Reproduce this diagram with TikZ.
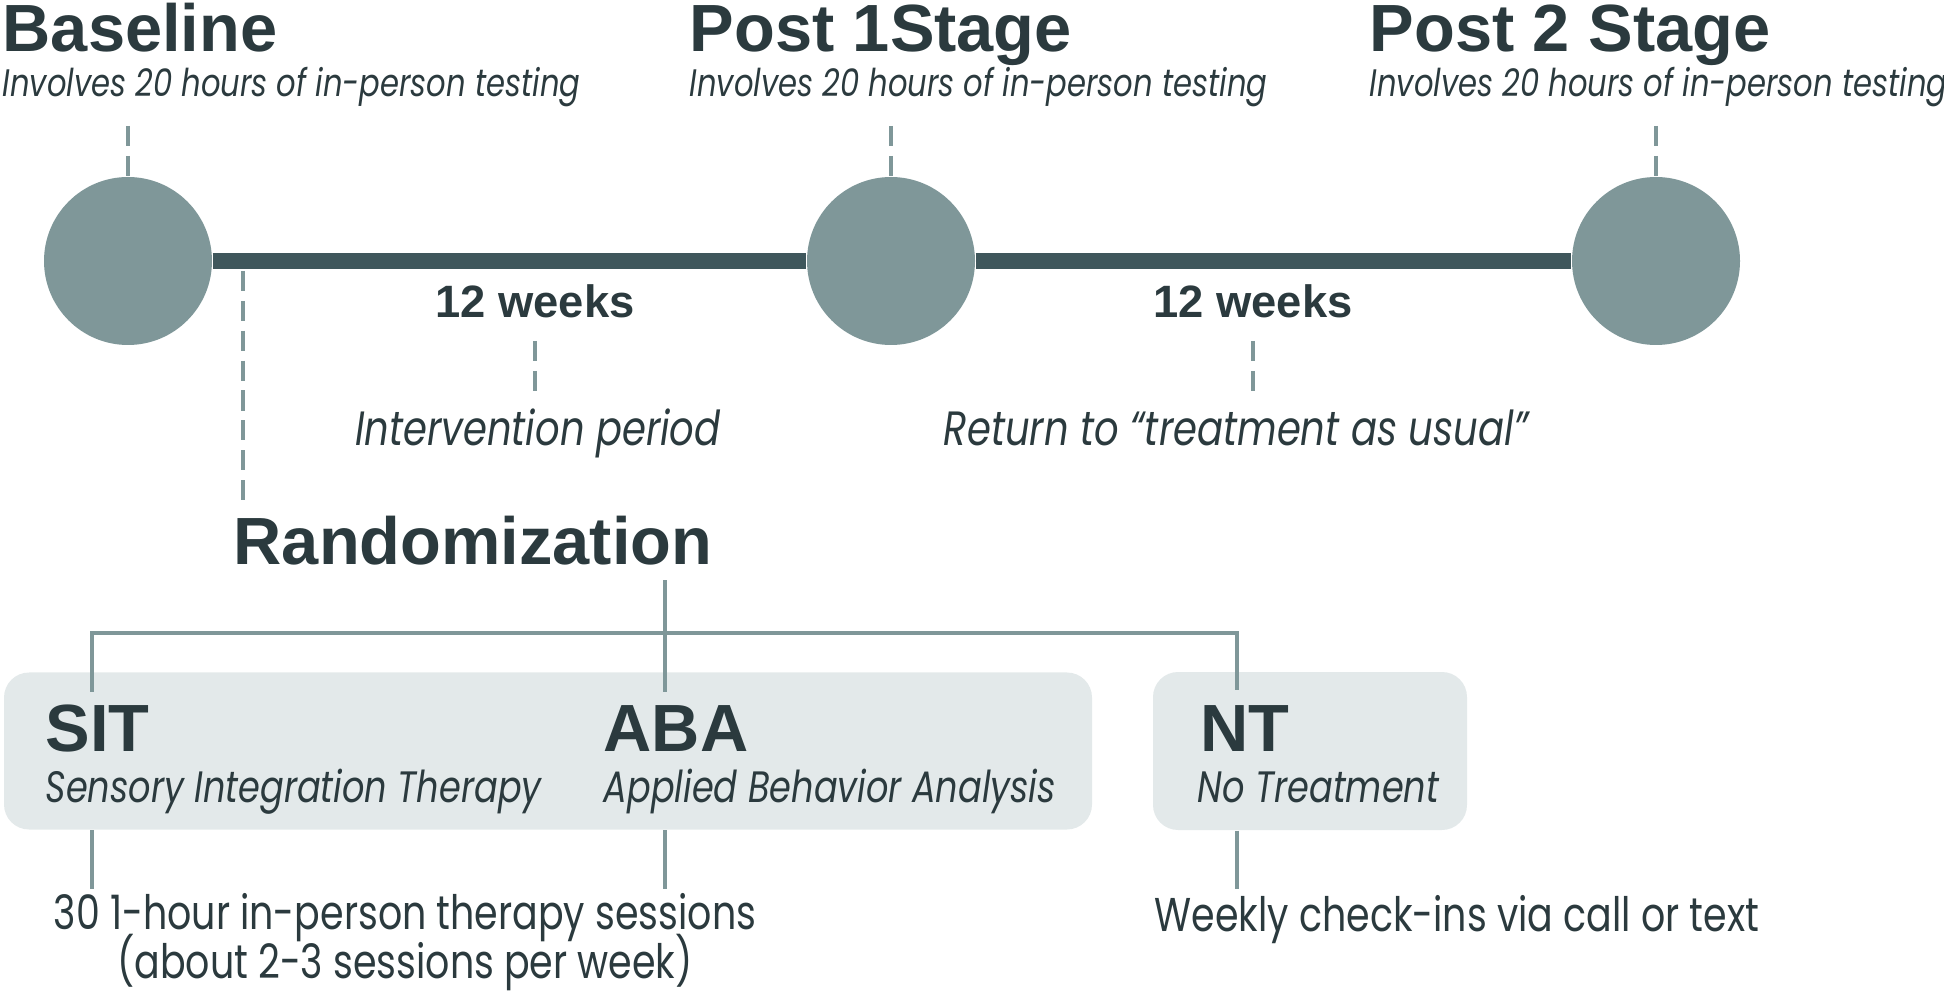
\documentclass[tikz,border=0pt]{standalone}
\usepackage{fontspec}
\setmainfont{Poppins}[FakeStretch=0.8]
\newfontfamily\headfont{Liberation Sans}
\usetikzlibrary{positioning}

\definecolor{ink}{HTML}{2B3A3E}
\definecolor{barcol}{HTML}{3F575C}
\definecolor{dotcol}{HTML}{7F9799}
\definecolor{boxcol}{HTML}{E3E9EA}

\begin{document}
\begin{tikzpicture}[
    x=0.1mm, y=-0.1mm,
    stage/.style={circle, fill=dotcol, minimum size=1.68cm, inner sep=0pt},
    bar/.style={barcol, line width=4.8pt},
    title/.style={anchor=base west, inner sep=0pt, text=ink, font=\headfont\bfseries\fontsize{19}{22}\selectfont},
    weeks/.style={anchor=base, inner sep=0pt, text=ink, font=\headfont\bfseries\fontsize{12.9}{15}\selectfont},
    note/.style={anchor=base west, inner sep=0pt, text=ink, font=\itshape\fontsize{10.9}{13}\selectfont},
    period/.style={note, anchor=base, font=\itshape\fontsize{13.7}{16}\selectfont},
    boxnote/.style={note, font=\itshape\fontsize{12.5}{15}\selectfont},
    body/.style={anchor=base, inner sep=0pt, text=ink, font=\fontsize{13.5}{16}\selectfont},
    group/.style={rectangle, rounded corners=0.25cm, fill=boxcol, inner sep=0pt},
    tick/.style={dotcol, line width=1.1pt, dash pattern=on 5.7pt off 2.8pt},
    link/.style={dotcol, line width=1.3pt}
]
\useasboundingbox (0,0) rectangle (1944,993);

% timeline
\node[stage] (base) at (128,261) {};
\node[stage] (post1) at (891,261) {};
\node[stage] (post2) at (1656,261) {};
\draw[bar] (base) -- (post1);
\draw[bar] (post1) -- (post2);

\node[title] (basettl) at (2,52) {Baseline};
\node[note] (basenote) at (2,97) {Involves 20 hours of in-person testing};
\node[title] (post1ttl) at (689,52) {Post 1Stage};
\node[note] (post1note) at (689,97) {Involves 20 hours of in-person testing};
\node[title] (post2ttl) at (1369,52) {Post 2 Stage};
\node[note] (post2note) at (1369,97) {Involves 20 hours of in-person testing};

\coordinate (basetick) at (128,126);
\coordinate (post1tick) at (891,126);
\coordinate (post2tick) at (1656,126);
\draw[tick] (basetick) -- (base.north);
\draw[tick] (post1tick) -- (post1.north);
\draw[tick] (post2tick) -- (post2.north);

\node[weeks] (wk1) at (535,318) {12 weeks};
\node[weeks] (wk2) at (1253,318) {12 weeks};
\node[period] (intv) at (538,446) {Intervention period};
\node[period] (usual) at (1236,446) {Return to “treatment as usual”};
\coordinate (wk1top) at (535,341);
\coordinate (wk1end) at (535,394);
\coordinate (wk2top) at (1253,341);
\coordinate (wk2end) at (1253,394);
\draw[tick] (wk1top) -- (wk1end);
\draw[tick] (wk2top) -- (wk2end);

% randomization
\node[title] (rand) at (233,565) {Randomization};
\coordinate (randfork) at (243,271);
\draw[tick, shorten >=4pt] (randfork) -- (randfork |- rand.north);

\node[group, minimum width=10.88cm, minimum height=1.57cm] (trtbox) at (548,751) {};
\node[group, minimum width=3.14cm, minimum height=1.58cm] (ntbox) at (1310,751) {};

\node[title] (sit) at (45,751) {SIT};
\node[boxnote] (sitnote) at (45,802) {Sensory Integration Therapy};
\node[title] (aba) at (603,751) {ABA};
\node[boxnote] (abanote) at (603,802) {Applied Behavior Analysis};
\node[title] (nt) at (1200,752) {NT};
\node[boxnote] (ntnote) at (1197,803) {No Treatment};

\coordinate (split) at (665,633);
\coordinate (sitin) at (92,692);
\coordinate (abain) at (665,692);
\coordinate (ntin) at (1237,690);
\draw[link, shorten <=4pt] (rand.south -| abain) -- (abain);
\draw[link] (sitin) -- (sitin |- split) -- (ntin |- split) -- (ntin);

\coordinate (sitout) at (92,889);
\coordinate (abaout) at (665,889);
\coordinate (ntout) at (1237,889);
\draw[link] (sitout |- trtbox.south) -- (sitout);
\draw[link] (abaout |- trtbox.south) -- (abaout);
\draw[link] (ntout |- ntbox.south) -- (ntout);

\node[body] (sess) at (405,929) {30 1-hour in-person therapy sessions};
\node[body] (sesspw) at (405,978) {(about 2-3 sessions per week)};
\node[body, anchor=base west] (weekly) at (1154,931) {Weekly check-ins via call or text};
\end{tikzpicture}
\end{document}
